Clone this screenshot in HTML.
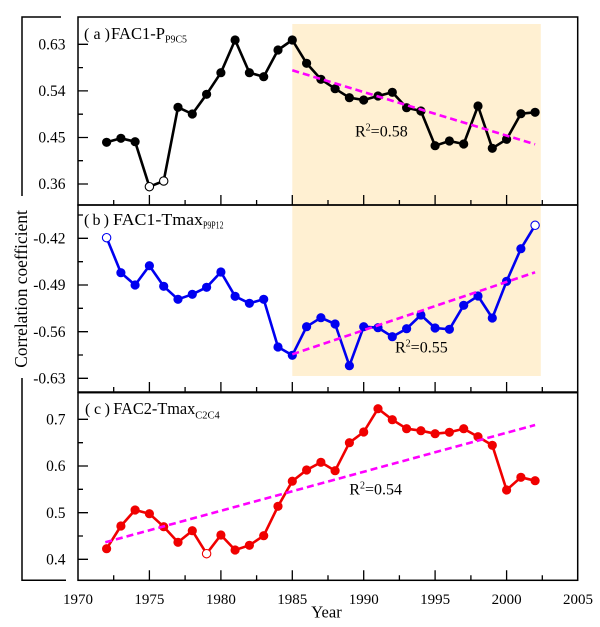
<!DOCTYPE html>
<html><head><meta charset="utf-8"><style>
html,body{margin:0;padding:0;background:#fff;}
svg{display:block;}
text{font-family:"Liberation Serif","Times New Roman",serif;fill:#000;}
</style></head><body>
<svg width="600" height="627" viewBox="0 0 600 627" xmlns="http://www.w3.org/2000/svg">
<rect x="292.3" y="24" width="248.5" height="181" fill="#FFF0D2"/>
<rect x="292.3" y="205" width="248.5" height="171" fill="#FFF0D2"/>

<g fill="none" stroke="#000" stroke-width="1.5">
<rect x="78" y="17" width="499.7" height="188"/>
<rect x="78" y="205" width="499.7" height="187"/>
<rect x="78" y="392.7" width="499.7" height="187.6"/>
<polyline points="61,17 22,17 22,196"/>
<polyline points="22,378 22,580.3 66,580.3"/>
</g>

<g stroke="#000" stroke-width="1.3">
<path d="M149.4 205v-10M220.9 205v-10M292.3 205v-10M363.7 205v-10M435.1 205v-10M506.6 205v-10
M113.7 205v-5M185.1 205v-5M256.6 205v-5M328 205v-5M399.4 205v-5M470.9 205v-5M542.3 205v-5"/>
<path d="M149.4 392v-10M220.9 392v-10M292.3 392v-10M363.7 392v-10M435.1 392v-10M506.6 392v-10
M113.7 392v-5M185.1 392v-5M256.6 392v-5M328 392v-5M399.4 392v-5M470.9 392v-5M542.3 392v-5"/>
<path d="M149.4 580.3v-10M220.9 580.3v-10M292.3 580.3v-10M363.7 580.3v-10M435.1 580.3v-10M506.6 580.3v-10
M113.7 580.3v-5M185.1 580.3v-5M256.6 580.3v-5M328 580.3v-5M399.4 580.3v-5M470.9 580.3v-5M542.3 580.3v-5"/>
<path d="M78 44.3h10M78 90.9h10M78 137.5h10M78 184h10M78 67.6h5M78 114.2h5M78 160.7h5"/>
<path d="M78 238.3h10M78 285h10M78 331.7h10M78 378.3h10M78 215h5M78 261.7h5M78 308.3h5M78 355h5"/>
<path d="M78 419.3h10M78 466h10M78 512.7h10M78 559.3h10M78 442.7h5M78 489.3h5M78 536h5"/>
</g>

<g font-size="15.5" text-anchor="end">
<text x="65.5" y="49.5">0.63</text>
<text x="65.5" y="96">0.54</text>
<text x="65.5" y="142.6">0.45</text>
<text x="65.5" y="189.2">0.36</text>
<text x="65.5" y="243.5">-0.42</text>
<text x="65.5" y="290.2">-0.49</text>
<text x="65.5" y="336.9">-0.56</text>
<text x="65.5" y="383.5">-0.63</text>
<text x="65.5" y="424.5">0.7</text>
<text x="65.5" y="471.2">0.6</text>
<text x="65.5" y="517.9">0.5</text>
<text x="65.5" y="564.5">0.4</text>
</g>

<g font-size="15" text-anchor="middle">
<text x="78" y="604">1970</text>
<text x="149.4" y="604">1975</text>
<text x="220.9" y="604">1980</text>
<text x="292.3" y="604">1985</text>
<text x="363.7" y="604">1990</text>
<text x="435.1" y="604">1995</text>
<text x="506.6" y="604">2000</text>
<text x="578" y="604">2005</text>
</g>
<text x="326.5" y="617.5" font-size="16.5" text-anchor="middle">Year</text>
<text transform="translate(27,289) rotate(-90)" font-size="17.4" text-anchor="middle">Correlation coefficient</text>

<text x="84" y="39" font-size="16" textLength="26" lengthAdjust="spacing">(a)</text>
<text x="111" y="39" font-size="16.5" textLength="54" lengthAdjust="spacingAndGlyphs">FAC1-P</text>
<text x="165" y="42.5" font-size="10" textLength="22" lengthAdjust="spacingAndGlyphs">P9C5</text>

<text x="84" y="225" font-size="16" textLength="25" lengthAdjust="spacing">(b)</text>
<text x="113" y="225" font-size="16.5" textLength="90" lengthAdjust="spacingAndGlyphs">FAC1-Tmax</text>
<text x="203" y="228.5" font-size="10" textLength="20.5" lengthAdjust="spacingAndGlyphs">P9P12</text>

<text x="85" y="414" font-size="16" textLength="25" lengthAdjust="spacing">(c)</text>
<text x="113.3" y="414" font-size="16.5" textLength="82" lengthAdjust="spacingAndGlyphs">FAC2-Tmax</text>
<text x="195.3" y="418.5" font-size="10" textLength="24.5" lengthAdjust="spacingAndGlyphs">C2C4</text>

<text x="355" y="136.7" font-size="16">R<tspan font-size="10" dy="-6">2</tspan><tspan dy="6">=0.58</tspan></text>
<text x="395" y="352.7" font-size="16">R<tspan font-size="10" dy="-6">2</tspan><tspan dy="6">=0.55</tspan></text>
<text x="349.3" y="494.3" font-size="16">R<tspan font-size="10" dy="-6">2</tspan><tspan dy="6">=0.54</tspan></text>

<polyline fill="none" stroke="#000" stroke-width="2.6" stroke-linejoin="round" points="106.6,142.3 120.9,138.3 135.1,141.7 149.4,186.7 163.7,181 178,107.3 192.3,114 206.6,94.3 220.9,72.7 235.1,40 249.4,72.7 263.7,76.7 278,50 292.3,40 306.6,63.3 320.9,79.3 335.1,88.7 349.4,97.7 363.7,100 378,96 392.3,92.3 406.6,107.7 420.9,111 435.1,145.7 449.4,141 463.7,144 478,106 492.3,148.3 506.6,139.3 520.9,113.7 535.1,112.3"/>
<g fill="#000">
<circle cx="106.6" cy="142.3" r="4.6"/><circle cx="120.9" cy="138.3" r="4.6"/><circle cx="135.1" cy="141.7" r="4.6"/>
<circle cx="178" cy="107.3" r="4.6"/><circle cx="192.3" cy="114" r="4.6"/><circle cx="206.6" cy="94.3" r="4.6"/><circle cx="220.9" cy="72.7" r="4.6"/><circle cx="235.1" cy="40" r="4.6"/><circle cx="249.4" cy="72.7" r="4.6"/><circle cx="263.7" cy="76.7" r="4.6"/><circle cx="278" cy="50" r="4.6"/><circle cx="292.3" cy="40" r="4.6"/><circle cx="306.6" cy="63.3" r="4.6"/><circle cx="320.9" cy="79.3" r="4.6"/><circle cx="335.1" cy="88.7" r="4.6"/><circle cx="349.4" cy="97.7" r="4.6"/><circle cx="363.7" cy="100" r="4.6"/><circle cx="378" cy="96" r="4.6"/><circle cx="392.3" cy="92.3" r="4.6"/><circle cx="406.6" cy="107.7" r="4.6"/><circle cx="420.9" cy="111" r="4.6"/><circle cx="435.1" cy="145.7" r="4.6"/><circle cx="449.4" cy="141" r="4.6"/><circle cx="463.7" cy="144" r="4.6"/><circle cx="478" cy="106" r="4.6"/><circle cx="492.3" cy="148.3" r="4.6"/><circle cx="506.6" cy="139.3" r="4.6"/><circle cx="520.9" cy="113.7" r="4.6"/><circle cx="535.1" cy="112.3" r="4.6"/>
</g>
<g fill="#fff" stroke="#000" stroke-width="1.1">
<circle cx="149.4" cy="186.7" r="4.2"/><circle cx="163.7" cy="181" r="4.2"/>
</g>

<polyline fill="none" stroke="#0000F0" stroke-width="2.6" stroke-linejoin="round" points="106.6,237.7 120.9,272.7 135.1,285 149.4,265.7 163.7,286.3 178,299.3 192.3,294.3 206.6,287.3 220.9,272 235.1,296.3 249.4,303.3 263.7,299.3 278,347 292.3,355.3 306.6,326.7 320.9,317.7 335.1,324 349.4,365.7 363.7,326.7 378,327.7 392.3,336.7 406.6,328.7 420.9,315 435.1,328 449.4,329.3 463.7,305.3 478,296 492.3,318 506.6,281.3 520.9,248.7 535.1,225.3"/>
<g fill="#0000F0">
<circle cx="120.9" cy="272.7" r="4.6"/><circle cx="135.1" cy="285" r="4.6"/><circle cx="149.4" cy="265.7" r="4.6"/><circle cx="163.7" cy="286.3" r="4.6"/><circle cx="178" cy="299.3" r="4.6"/><circle cx="192.3" cy="294.3" r="4.6"/><circle cx="206.6" cy="287.3" r="4.6"/><circle cx="220.9" cy="272" r="4.6"/><circle cx="235.1" cy="296.3" r="4.6"/><circle cx="249.4" cy="303.3" r="4.6"/><circle cx="263.7" cy="299.3" r="4.6"/><circle cx="278" cy="347" r="4.6"/><circle cx="292.3" cy="355.3" r="4.6"/><circle cx="306.6" cy="326.7" r="4.6"/><circle cx="320.9" cy="317.7" r="4.6"/><circle cx="335.1" cy="324" r="4.6"/><circle cx="349.4" cy="365.7" r="4.6"/><circle cx="363.7" cy="326.7" r="4.6"/><circle cx="378" cy="327.7" r="4.6"/><circle cx="392.3" cy="336.7" r="4.6"/><circle cx="406.6" cy="328.7" r="4.6"/><circle cx="420.9" cy="315" r="4.6"/><circle cx="435.1" cy="328" r="4.6"/><circle cx="449.4" cy="329.3" r="4.6"/><circle cx="463.7" cy="305.3" r="4.6"/><circle cx="478" cy="296" r="4.6"/><circle cx="492.3" cy="318" r="4.6"/><circle cx="506.6" cy="281.3" r="4.6"/><circle cx="520.9" cy="248.7" r="4.6"/>
</g>
<g fill="#fff" stroke="#0000F0" stroke-width="1.1">
<circle cx="106.6" cy="237.7" r="4.2"/><circle cx="535.1" cy="225.3" r="4.2"/>
</g>

<polyline fill="none" stroke="#F00000" stroke-width="2.6" stroke-linejoin="round" points="106.6,548.7 120.9,526 135.1,510 149.4,513.7 163.7,526.7 178,542.3 192.3,530.7 206.6,553.7 220.9,535 235.1,550 249.4,545.3 263.7,535.7 278,506.3 292.3,481.2 306.6,470 320.9,462.3 335.1,470.7 349.4,442.7 363.7,432 378,408.7 392.3,419.7 406.6,428.7 420.9,430.7 435.1,433.7 449.4,432.3 463.7,428.7 478,436.7 492.3,445.3 506.6,490 520.9,477.3 535.1,480.7"/>
<g fill="#F00000">
<circle cx="106.6" cy="548.7" r="4.6"/><circle cx="120.9" cy="526" r="4.6"/><circle cx="135.1" cy="510" r="4.6"/><circle cx="149.4" cy="513.7" r="4.6"/><circle cx="163.7" cy="526.7" r="4.6"/><circle cx="178" cy="542.3" r="4.6"/><circle cx="192.3" cy="530.7" r="4.6"/><circle cx="220.9" cy="535" r="4.6"/><circle cx="235.1" cy="550" r="4.6"/><circle cx="249.4" cy="545.3" r="4.6"/><circle cx="263.7" cy="535.7" r="4.6"/><circle cx="278" cy="506.3" r="4.6"/><circle cx="292.3" cy="481.2" r="4.6"/><circle cx="306.6" cy="470" r="4.6"/><circle cx="320.9" cy="462.3" r="4.6"/><circle cx="335.1" cy="470.7" r="4.6"/><circle cx="349.4" cy="442.7" r="4.6"/><circle cx="363.7" cy="432" r="4.6"/><circle cx="378" cy="408.7" r="4.6"/><circle cx="392.3" cy="419.7" r="4.6"/><circle cx="406.6" cy="428.7" r="4.6"/><circle cx="420.9" cy="430.7" r="4.6"/><circle cx="435.1" cy="433.7" r="4.6"/><circle cx="449.4" cy="432.3" r="4.6"/><circle cx="463.7" cy="428.7" r="4.6"/><circle cx="478" cy="436.7" r="4.6"/><circle cx="492.3" cy="445.3" r="4.6"/><circle cx="506.6" cy="490" r="4.6"/><circle cx="520.9" cy="477.3" r="4.6"/><circle cx="535.1" cy="480.7" r="4.6"/>
</g>
<g fill="#fff" stroke="#F00000" stroke-width="1.1">
<circle cx="206.6" cy="553.7" r="4.2"/>
</g>

<g stroke="#FF00FF" stroke-width="2.6" stroke-dasharray="7 4" fill="none">
<line x1="292.3" y1="70.3" x2="535.1" y2="144.3"/>
<line x1="292.3" y1="354.3" x2="535.1" y2="272.3"/>
<line x1="105.3" y1="542.3" x2="535.1" y2="425"/>
</g>
</svg>
</body></html>
